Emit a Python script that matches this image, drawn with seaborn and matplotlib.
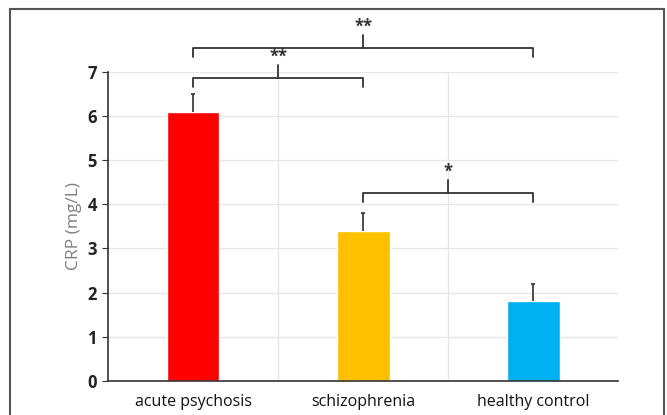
import numpy as np
import pandas as pd
import matplotlib
matplotlib.use("Agg")
import matplotlib.pyplot as plt
import seaborn as sns
from matplotlib.patches import Rectangle

# data
groups = ["acute psychosis", "schizophrenia", "healthy control"]
crp_mean = [6.1, 3.4, 1.8]
crp_err = [0.4, 0.4, 0.4]
bar_colors = ["#FF0000", "#FFC000", "#00B0F0"]

# significance brackets: (left group, right group, height, label)
brackets = [(0, 1, 6.85, "**"), (0, 2, 7.53, "**"), (1, 2, 4.26, "*")]

sns.set_style("white")
plt.rcParams["font.family"] = ["Open Sans", "DejaVu Sans"]

df = pd.DataFrame({"group": groups, "crp": crp_mean})

fig = plt.figure(figsize=(6.67, 4.15), dpi=100)
ax = fig.add_axes([0.162, 0.082, 0.765, 0.745])

sns.barplot(data=df, x="group", y="crp", hue="group", palette=bar_colors,
            width=0.31, legend=False, ax=ax, saturation=1)
# upper error only
_, caps, _ = ax.errorbar(np.arange(len(groups)), crp_mean,
                         yerr=[np.zeros(len(groups)), crp_err], fmt="none",
                         ecolor="#404040", elinewidth=1.3, capsize=1.5, capthick=1.3)
caps[0].set_visible(False)

ax.set_ylim(0, 7)
ax.set_xlim(-0.5, 2.5)
ax.set_yticks(range(8))
ax.set_xticks([0.5, 1.5], minor=True)
ax.grid(True, axis="y", color="#e6e6e6", linewidth=1)
ax.grid(True, axis="x", which="minor", color="#e6e6e6", linewidth=1)
ax.set_axisbelow(True)
for s in ["top", "right"]:
    ax.spines[s].set_visible(False)
for s in ["left", "bottom"]:
    ax.spines[s].set_color("#333333")
    ax.spines[s].set_linewidth(1.2)
ax.tick_params(axis="y", which="major", left=True, length=4, color="#333333",
               labelsize=12, labelcolor="#222222", pad=4)
ax.tick_params(axis="x", which="both", bottom=False, labelsize=11.5,
               labelcolor="#111111", pad=6)
for t in ax.get_yticklabels():
    t.set_fontweight("bold")
ax.set_xlabel("")
ax.set_ylabel("CRP (mg/L)", fontsize=12.5, color="#7f7f7f", labelpad=4)

# significance brackets
for x1, x2, h, lab in brackets:
    drop = 0.2
    xm = (x1 + x2) / 2
    ax.plot([x1, x1, x2, x2], [h - drop, h, h, h - drop], color="#333333",
            lw=1.3, clip_on=False, solid_joinstyle="round")
    ax.plot([xm, xm], [h, h + 0.3], color="#333333", lw=1.3, clip_on=False)
    ax.text(xm, h + 0.28, lab, ha="center", va="bottom", fontsize=12,
            fontweight="bold", color="#333333", clip_on=False)

# outer frame
fig.patches.append(Rectangle((0.015, -0.05), 0.98, 1.028, transform=fig.transFigure,
                             fill=False, edgecolor="#555555", linewidth=1.5))

fig.savefig("out.png", dpi=100)
